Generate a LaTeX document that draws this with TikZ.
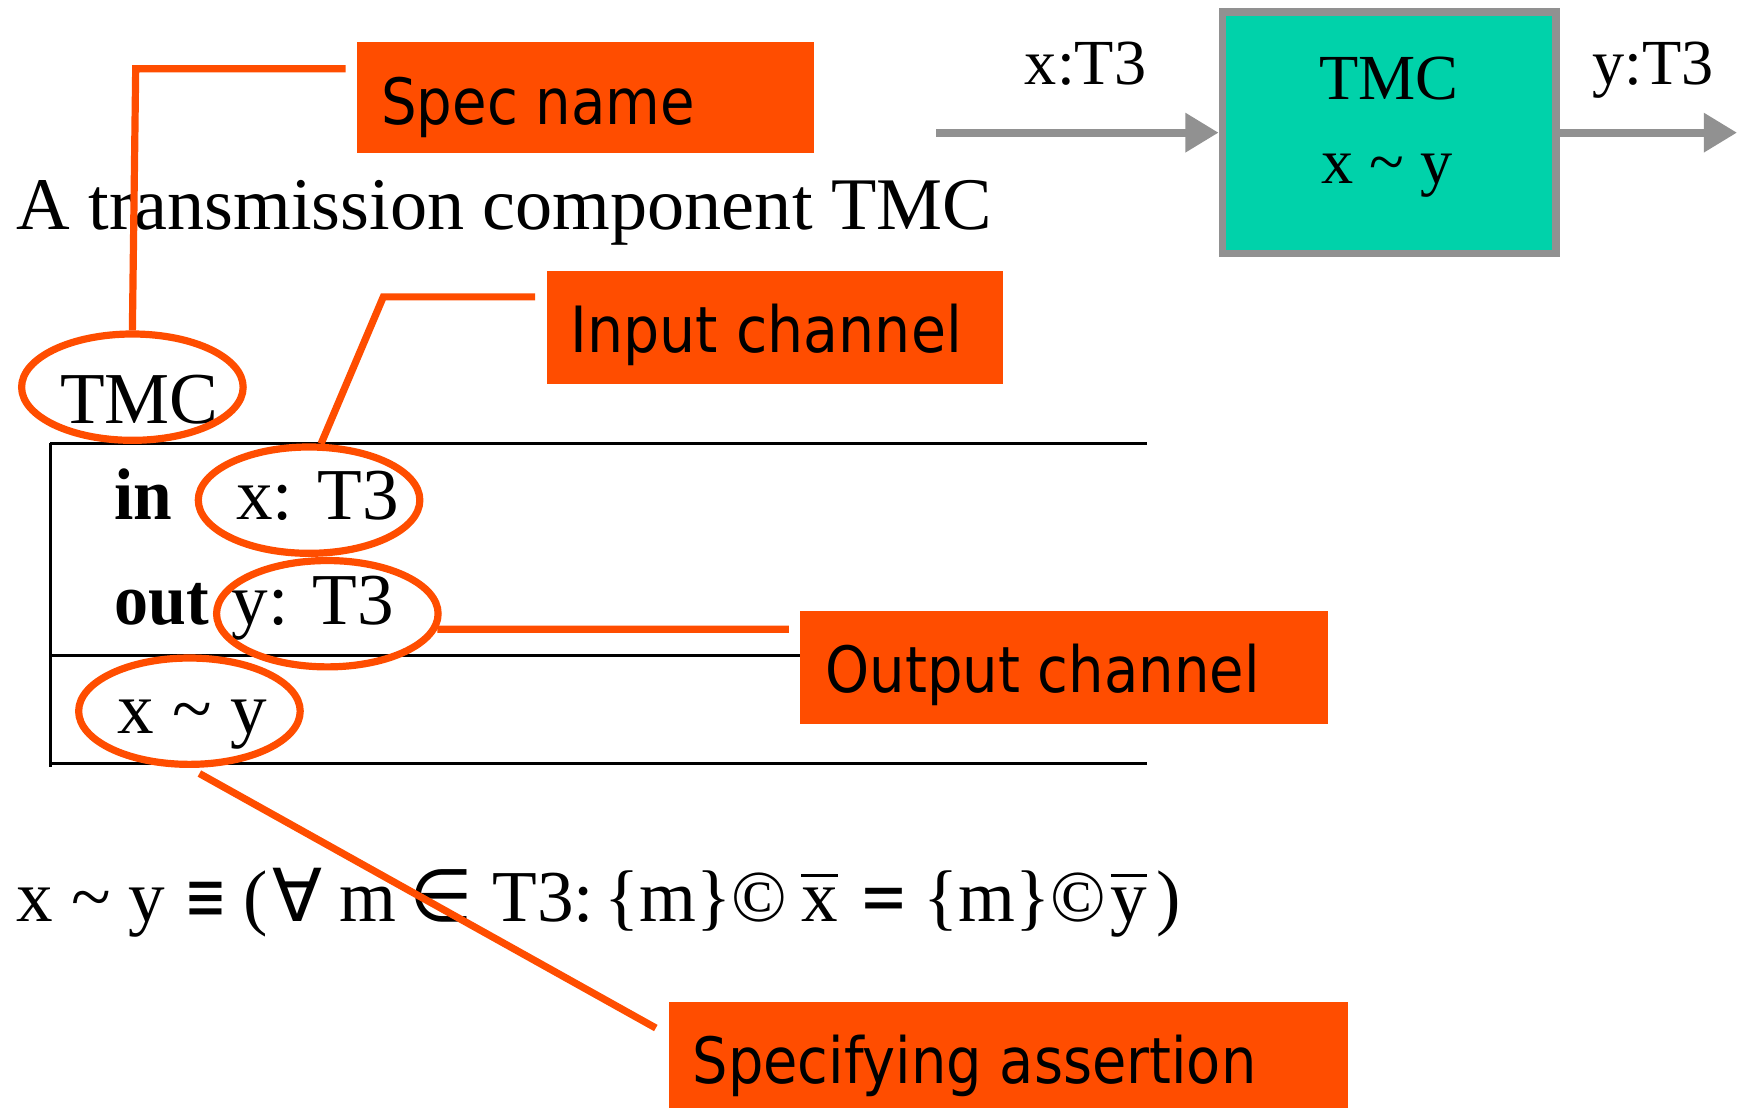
\documentclass[tikz,border=0pt]{standalone}
\usepackage{fontspec}
\usepackage{graphicx}
\setmainfont{Liberation Serif}
\newfontfamily\lblfont{DejaVu Sans}
\newfontfamily\symfnt{DejaVu Sans}
\usetikzlibrary{shapes.geometric,arrows.meta}
\definecolor{orng}{RGB}{255,77,0}
\definecolor{tealfill}{RGB}{0,210,170}
\definecolor{gry}{RGB}{145,145,145}
\newcommand\obar[1]{\leavevmode\vbox{\hrule height 2.5pt\kern 9.5pt\hbox{#1}}}
\newcommand\fs[1]{\fontsize{#1}{#1}\selectfont}
\newcommand\putat[2]{\makebox[0pt][l]{\hspace*{#1pt}#2}}
\begin{document}
\begin{tikzpicture}[x=1pt,y=-1pt,
  sertext/.style={inner sep=0pt, anchor=base west, font=\fs{66}},
  lbox/.style={fill=orng, draw=none, inner sep=0pt, anchor=north west},
  ltext/.style={inner sep=0pt, anchor=base west, font=\lblfont\fs{57.6}},
  ovalmark/.style={draw=orng, line width=6.5pt, ellipse, minimum width=200pt, minimum height=96pt, inner sep=0pt},
  conn/.style={draw=orng, line width=6.5pt},
  tabrule/.style={draw=black, line width=2.7pt},
  garrow/.style={draw=gry, line width=7pt, -{Triangle[length=30pt,width=34pt]}}
]
\useasboundingbox (0,0) rectangle (1568,1000);

% block diagram
\node[draw=gry, fill=tealfill, line width=6.6pt, minimum width=301.4pt, minimum height=217.9pt, inner sep=0pt] (tmcbox) at (1254,119.75) {};
\node[sertext, font=\fs{58}, anchor=base] (boxname) at (1253.5,89.4) {TMC};
\node[sertext, font=\fs{58}, anchor=base] (boxrel) at (1252,165.5) {x\ \char"7E\ y};
\node[sertext, font=\fs{58}] (xin) at (925,76) {x:T3};
\node[sertext, font=\fs{58}] (yout) at (1437,76) {y:T3};
\coordinate (instart) at (845,119.75);
\coordinate (outend) at (1568,119.75);
\draw[garrow] (instart) -- (tmcbox.west);
\draw[garrow] (tmcbox.east) -- (outend);

% title
\node[sertext, font=\fs{67}] (title) at (15,207) {A transmission component TMC};

% schema
\node[sertext] (specname) at (54,382) {TMC};
\draw[tabrule] (45,400) -- (1035,400);
\draw[tabrule] (46,400) -- (46,692);
\draw[tabrule] (46,592) -- (1035,592);
\draw[tabrule] (45,689) -- (1035,689);
\node[sertext, font=\fs{66}\bfseries] (kwin) at (103,469) {\scalebox{0.95}[1]{in}};
\node[sertext] (xdecl) at (213,469) {x: T3};
\node[sertext, font=\fs{66}\bfseries] (kwout) at (103,564) {\scalebox{0.93}[1]{out}};
\node[sertext] (ydecl) at (209,564) {y: T3};
\node[sertext] (assert) at (106,662) {x\ \char"7E\ y};

% formula
\node[sertext] (formula) at (0,831.5) {%
\putat{14}{x\ \char"7E\ y}%
\putat{166}{\scalebox{0.7}[1]{\symfnt ≡}}%
\putat{219.5}{(}%
\putat{245}{\symfnt ∀}%
\putat{306}{m}%
\putat{369}{\symfnt ∈}%
\putat{444}{T3:}%
\putat{545}{\{m\}©}%
\putat{722.5}{\obar{x}}%
\putat{775}{\scalebox{0.8}[1]{\symfnt =}}%
\putat{833}{\{m\}©}%
\putat{1002}{\obar{y}}%
\putat{1043}{)}};

% ellipses
\node[ovalmark] (tmcell) at (119.5,349.5) {};
\node[ovalmark] (xell) at (279,451.5) {};
\node[ovalmark] (yell) at (295.5,554) {};
\node[ovalmark] (xyell) at (171,642) {};

% connectors
\coordinate (snend) at (312,62);
\coordinate (sncorner) at (122.5,62);
\draw[conn] (snend) -- (sncorner) -- (tmcell.north);
\coordinate (icend) at (483,268);
\coordinate (iccorner) at (346,268);
\draw[conn] (icend) -- (iccorner) -- (xell.78);
\coordinate (ocend) at (712,568);
\draw[conn] (yell.-8) -- (ocend);
\coordinate (saend) at (592,928);
\draw[conn] ([xshift=9pt,yshift=-5pt]xyell.south) -- (saend);

% label boxes
\node[lbox, minimum width=413pt, minimum height=100.5pt] (specbox) at (322,37.5) {};
\node[ltext] (spectxt) at (344,112) {\scalebox{0.88}[1]{Spec name}};
\node[lbox, minimum width=411pt, minimum height=102pt] (inbox) at (494,244) {};
\node[ltext] (intxt) at (515,318) {\scalebox{0.893}[1]{Input channel}};
\node[lbox, minimum width=477pt, minimum height=102pt] (outbox) at (722,551) {};
\node[ltext] (outtxt) at (745,625) {\scalebox{0.878}[1]{Output channel}};
\node[lbox, minimum width=613pt, minimum height=100pt] (sabox) at (604,904) {};
\node[ltext] (satxt) at (625,978) {\scalebox{0.875}[1]{Specifying assertion}};
\end{tikzpicture}
\end{document}
